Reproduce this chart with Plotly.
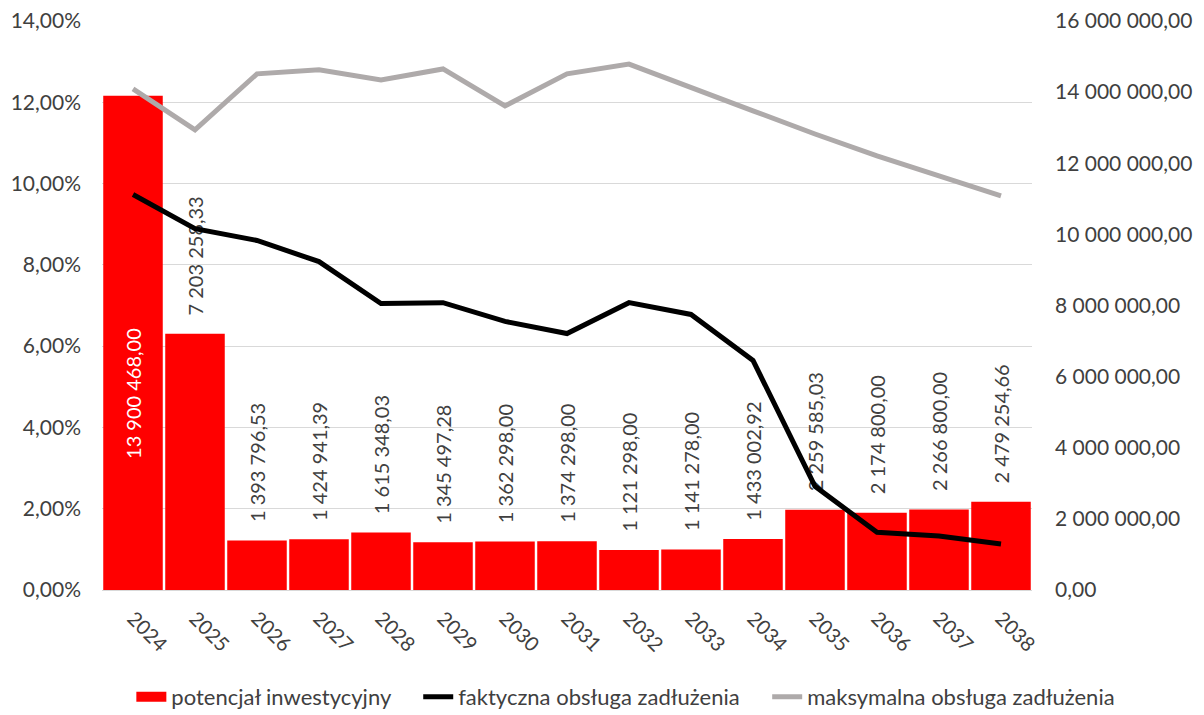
import plotly.graph_objects as go

# Lata objęte prognozą
years = ["2024", "2025", "2026", "2027", "2028", "2029", "2030", "2031",
         "2032", "2033", "2034", "2035", "2036", "2037", "2038"]

# Potencjał inwestycyjny (zł) - prawa oś
potencjal = [13900468.00, 7203258.33, 1393796.53, 1424941.39, 1615348.03,
             1345497.28, 1362298.00, 1374298.00, 1121298.00, 1141278.00,
             1433002.92, 2259585.03, 2174800.00, 2266800.00, 2479254.66]

# Faktyczna obsługa zadłużenia (%) - lewa oś
faktyczna = [9.73, 8.89, 8.60, 8.08, 7.05, 7.07, 6.61, 6.31, 7.07, 6.78,
             5.65, 2.55, 1.42, 1.33, 1.13]

# Maksymalna obsługa zadłużenia (%) - lewa oś
maksymalna = [12.33, 11.32, 12.70, 12.80, 12.55, 12.82, 11.91, 12.70, 12.94,
              12.35, 11.79, 11.22, 10.68, 10.19, 9.70]

FONT = "Lato"
TXT = "#404040"
RED = "#FF0000"
NBSP = "\u00a0"


def pl_num(v):
    return f"{v:,.2f}".replace(",", " ").replace(".", ",")


# odstęp między słupkiem a etykietą (etykieta obrócona, czytana od dołu)
bar_text = [""] + [NBSP * 3 + pl_num(v) for v in potencjal[1:]]
legend_pad = NBSP * 4

fig = go.Figure()

fig.add_trace(go.Bar(
    x=years, y=potencjal, name="potencjał inwestycyjny",
    marker=dict(color=RED, line=dict(width=0)),
    text=bar_text, textposition="outside", textangle=-90,
    textfont=dict(family=FONT, size=20, color=TXT),
    constraintext="none", cliponaxis=False,
    showlegend=False, yaxis="y",
))

# Wpis legendy dla słupków w postaci szerokiego prostokąta
fig.add_trace(go.Scatter(
    x=[None], y=[None], name="potencjał inwestycyjny" + legend_pad,
    mode="lines", line=dict(color=RED, width=11), yaxis="y",
))

fig.add_trace(go.Scatter(
    x=years, y=[v / 100 for v in faktyczna],
    name="faktyczna obsługa zadłużenia" + legend_pad,
    mode="lines", line=dict(color="#000000", width=5),
    yaxis="y2",
))

fig.add_trace(go.Scatter(
    x=years, y=[v / 100 for v in maksymalna],
    name="maksymalna obsługa zadłużenia",
    mode="lines", line=dict(color="#AEAAAA", width=5),
    yaxis="y2",
))

# Etykieta pierwszego słupka mieści się wewnątrz słupka
fig.add_annotation(
    x=0, y=potencjal[0] * 0.26, yref="y", xref="x",
    text=pl_num(potencjal[0]), textangle=-90, showarrow=False,
    yanchor="bottom", font=dict(family=FONT, size=20, color="#FFFFFF"),
)

fig.update_layout(
    width=1204, height=715,
    margin=dict(l=102, r=172, t=21, b=125, autoexpand=False),
    paper_bgcolor="white", plot_bgcolor="white",
    separators=", ",
    font=dict(family=FONT, size=20, color=TXT),
    bargap=0.04,
    showlegend=True,
    legend=dict(orientation="h", x=1.095, xanchor="right",
                y=-0.188, yanchor="middle",
                font=dict(family=FONT, size=22, color=TXT), traceorder="normal"),
    xaxis=dict(type="category", categoryorder="array", categoryarray=years,
               range=[-0.5, len(years) - 0.5], tickangle=45, showgrid=False,
               showline=True, linecolor="#D9D9D9", linewidth=1, automargin=False,
               ticks="", ticklabelstandoff=8,
               tickfont=dict(family=FONT, size=20, color=TXT)),
    yaxis=dict(side="right", range=[0, 16000000], dtick=2000000,
               tickformat=",.2f", showgrid=False, zeroline=False, automargin=False,
               ticks="", ticklabelstandoff=22,
               tickfont=dict(family=FONT, size=21, color=TXT)),
    yaxis2=dict(side="left", overlaying="y", range=[0, 0.14], dtick=0.02,
                tickformat=".2%", showgrid=True, gridcolor="#D9D9D9", gridwidth=1,
                zeroline=False, ticks="", ticklabelstandoff=20, automargin=False,
                tickfont=dict(family=FONT, size=21, color=TXT)),
)

fig.write_html("out.html")
